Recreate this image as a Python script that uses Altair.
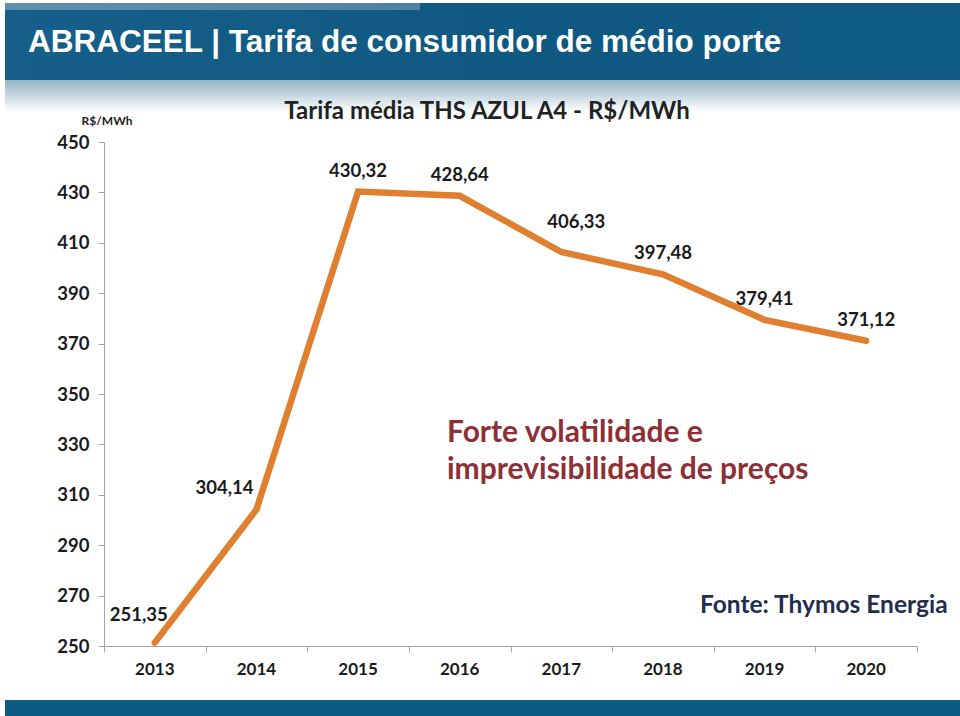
import altair as alt
import pandas as pd

# ---- data ----
years = [2013, 2014, 2015, 2016, 2017, 2018, 2019, 2020]
tarifa = [251.35, 304.14, 430.32, 428.64, 406.33, 397.48, 379.41, 371.12]
rotulos = ["251,35", "304,14", "430,32", "428,64", "406,33", "397,48", "379,41", "371,12"]
y_ticks = [250, 270, 290, 310, 330, 350, 370, 390, 410, 430, 450]
x_edges = [2012.5, 2013.5, 2014.5, 2015.5, 2016.5, 2017.5, 2018.5, 2019.5, 2020.5]

df = pd.DataFrame({"ano": years, "tarifa": tarifa, "rotulo": rotulos})

W, H = 813, 504
FONT = "Lato"
x_scale = alt.Scale(domain=[2012.5, 2020.5], nice=False, zero=False)
y_scale = alt.Scale(domain=[250, 450], nice=False, zero=False)

one = alt.Data(values=[{"k": 1}])


def rect(x, x2, y, y2, color):
    return alt.Chart(one).mark_rect(color=color).encode(
        x=alt.value(x), x2=alt.value(x2), y=alt.value(y), y2=alt.value(y2)
    )


def label(text, x, y, size, color, weight="bold", font=FONT, align="left"):
    return alt.Chart(one).mark_text(
        align=align, baseline="middle", font=font, fontSize=size,
        fontWeight=weight, color=color
    ).encode(x=alt.value(x), y=alt.value(y), text=alt.value(text))


header_grad = alt.Gradient(
    gradient="linear", x1=0, x2=1, y1=0, y2=0,
    stops=[alt.GradientStop(color="#155F8A", offset=0),
           alt.GradientStop(color="#0E5881", offset=0.6),
           alt.GradientStop(color="#115C86", offset=1)],
)
strip_grad = alt.Gradient(
    gradient="linear", x1=0, x2=1, y1=0, y2=0,
    stops=[alt.GradientStop(color="#5F8FAF", offset=0),
           alt.GradientStop(color="#4E82A4", offset=1)],
)
fade_grad = alt.Gradient(
    gradient="linear", x1=0, x2=0, y1=0, y2=1,
    stops=[alt.GradientStop(color="#93B3C5", offset=0),
           alt.GradientStop(color="#FFFFFF", offset=1)],
)

header = rect(-99, 856, -139, -62, header_grad)
strip = rect(-99, 316, -139, -132, strip_grad)
fade = rect(-99, 856, -62, -30, fade_grad)
footer = rect(-99, 856, 558, 574, "#0F5A85")

title_txt = label("ABRACEEL | Tarifa de consumidor de médio porte", -76, -99, 31.5,
                  "white", font="Liberation Sans Narrow, Liberation Sans, Arial")
chart_title = label("Tarifa média THS AZUL A4 - R$/MWh", 383, -30, 24, "#222222", align="center")
unit = label("R$/MWh", 3, -21, 12, "#222222", align="center")
ann1 = label("Forte volatilidade e", 343, 291, 30, "#8E2F35")
ann2 = label("imprevisibilidade de preços", 343, 328, 30, "#8E2F35")
fonte = label("Fonte: Thymos Energia", 596, 464, 24.5, "#1F2E4E")

base = alt.Chart(df)

line = base.mark_line(
    color="#E07F30", strokeWidth=6.5, strokeCap="round", strokeJoin="miter"
).encode(
    x=alt.X("ano:Q", scale=x_scale,
            axis=alt.Axis(values=x_edges, labels=False, title=None, grid=False,
                          domainColor="#A6A6A6", tickColor="#A6A6A6", tickSize=6)),
    y=alt.Y("tarifa:Q", scale=y_scale,
            axis=alt.Axis(values=y_ticks, title=None, grid=False,
                          labelFont=FONT, labelFontWeight="bold", labelFontSize=18.5,
                          labelColor="#1a1a1a", tickSize=6, labelPadding=9,
                          domainColor="#A6A6A6", tickColor="#A6A6A6")),
)

year_labels = base.mark_text(
    font=FONT, fontWeight="bold", fontSize=17, color="#1a1a1a", baseline="middle"
).encode(x=alt.X("ano:Q", scale=x_scale), y=alt.value(528), text=alt.Text("ano:N"))


def data_label(cond, dx, dy, align="center"):
    return base.transform_filter(cond).mark_text(
        font=FONT, fontWeight="bold", fontSize=18.5, color="#1a1a1a",
        baseline="middle", align=align, dx=dx, dy=dy
    ).encode(x=alt.X("ano:Q", scale=x_scale), y=alt.Y("tarifa:Q", scale=y_scale),
             text="rotulo:N")


lab_2013 = data_label(alt.datum.ano == 2013, 13, -28, "right")
lab_2014 = data_label(alt.datum.ano == 2014, -3, -22, "right")
lab_2017 = data_label(alt.datum.ano == 2017, 15, -30)
lab_rest = data_label((alt.datum.ano != 2013) & (alt.datum.ano != 2014) & (alt.datum.ano != 2017), 0, -21)

chart = alt.layer(
    header, strip, fade, footer, title_txt, chart_title, unit,
    line, year_labels, lab_2013, lab_2014, lab_2017, lab_rest,
    ann1, ann2, fonte,
).properties(
    width=W, height=H,
    autosize=alt.AutoSizeParams(type="none"),
    padding={"left": 104, "top": 142, "right": 43, "bottom": 70},
    background="white",
).configure_view(stroke=None)

chart.save("out.html", embed_options={"renderer": "svg", "actions": False})
